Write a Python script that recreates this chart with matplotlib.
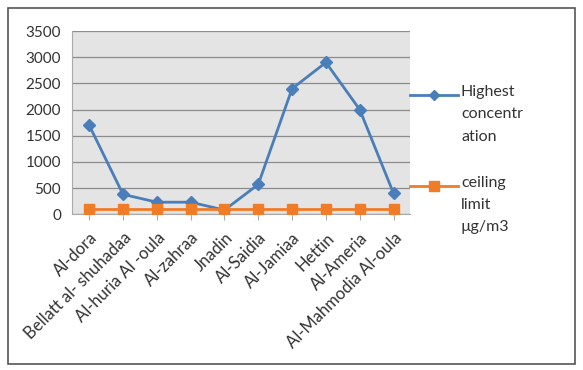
import matplotlib
matplotlib.use("Agg")
import matplotlib.pyplot as plt
from matplotlib.patches import Rectangle
from matplotlib.lines import Line2D

plt.rcParams['font.family'] = ['Lato', 'DejaVu Sans']

sites = ["Al-dora", "Bellatt al- shuhadaa", "Al-huria Al -oula", "Al-zahraa", "Jnadin",
         "Al-Saidia", "Al-Jamiaa", "Hettin", "Al-Ameria", "Al-Mahmodia Al-oula"]
highest = [1700, 380, 230, 230, 80, 570, 2400, 2900, 2000, 400]
ceiling = [100, 100, 100, 100, 100, 100, 100, 100, 100, 100]
yticks = [0, 500, 1000, 1500, 2000, 2500, 3000, 3500]
names = ["Highest\nconcentr\nation", "ceiling\nlimit\nµg/m3"]

blue = "#4A7EBB"
orange = "#F07C28"
W, H = 583, 370

fig = plt.figure(figsize=(5.83, 3.70), dpi=100)
fig.patches.append(Rectangle((0.014, 0.016), 0.972, 0.962, transform=fig.transFigure,
                             fill=False, edgecolor="#555555", linewidth=1.2))
ax = fig.add_axes([0.124, 0.421, 0.580, 0.495])
ax.set_facecolor("#e4e4e4")

x = list(range(len(sites)))
ax.plot(x, highest, color=blue, lw=2, marker="D", ms=6, zorder=3)
ax.plot(x, ceiling, color=orange, lw=2, marker="s", ms=7, zorder=4)

ax.set_xlim(-0.5, len(sites) - 0.5)
ax.set_ylim(0, 3500)
ax.set_yticks(yticks)
ax.yaxis.grid(True, color="#8c8c8c", lw=0.9)
ax.set_axisbelow(True)
ax.tick_params(axis="y", length=0, labelsize=11, colors="#333333", pad=8)
ax.set_xticks(x)
ax.set_xticklabels(sites, rotation=45, ha="right", rotation_mode="anchor", fontsize=12, color="#333333")
ax.tick_params(axis="x", length=4, color="#aaaaaa", pad=7)
for s in ["top", "right"]:
    ax.spines[s].set_visible(False)
ax.spines["left"].set_color("#aaaaaa")
ax.spines["bottom"].set_color("#aaaaaa")

# legend drawn by hand so the key sits on the first text line, like Excel
for name, col, mk, ms, ypx in [(names[0], blue, "D", 5, 95), (names[1], orange, "s", 7, 186)]:
    y = 1 - ypx / H
    fig.add_artist(Line2D([410 / W, 458 / W], [y, y], color=col, lw=2, transform=fig.transFigure))
    fig.add_artist(Line2D([434 / W], [y], color=col, marker=mk, ms=ms, transform=fig.transFigure))
    fig.text(461 / W, y + 10 / H, name, va="top", ha="left", fontsize=11.5, color="#333333",
             linespacing=1.75)

fig.savefig("out.png", dpi=100)
